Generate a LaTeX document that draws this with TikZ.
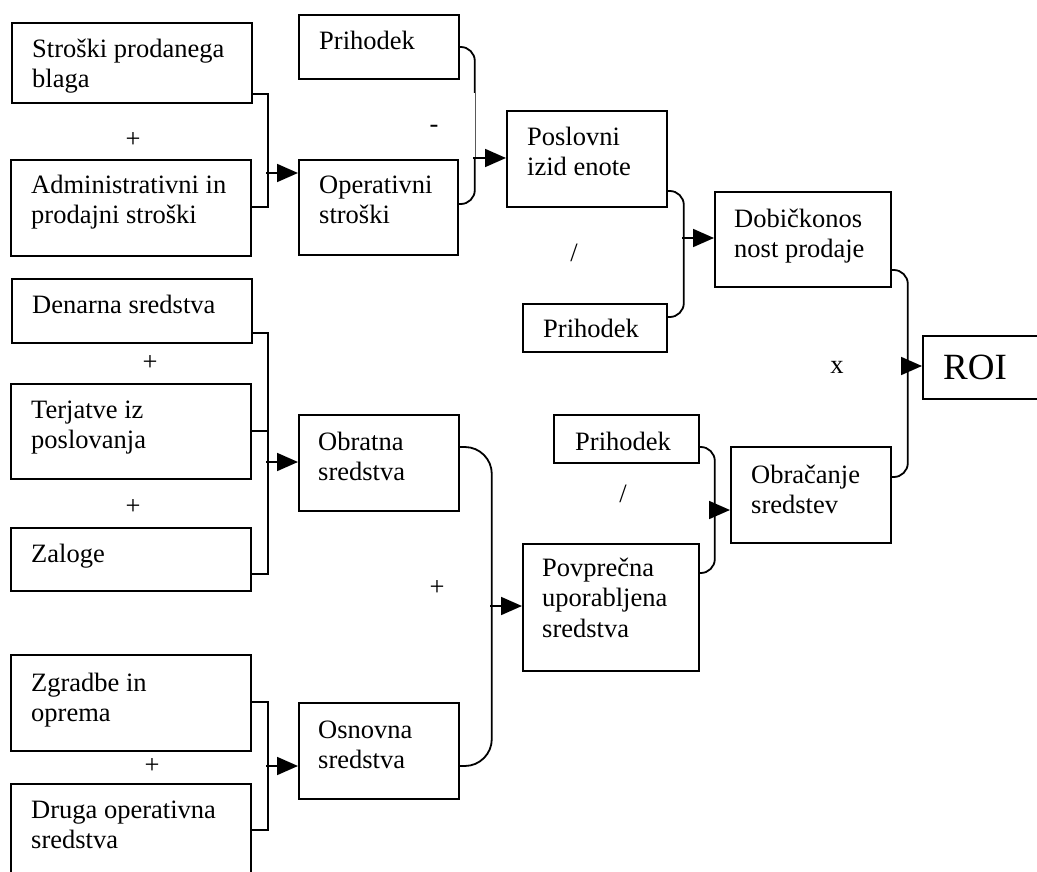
\documentclass[tikz,border=0pt]{standalone}
\usepackage{fontspec}
\setmainfont{Liberation Serif}
\usetikzlibrary{arrows.meta,calc}

% Multi-line labels sit on the baseline of their last line,
% so the offsets below name that last baseline.
\tikzset{
  box/.style={draw, line width=1.8pt, inner sep=0pt, anchor=north west},
  lbl/.style={anchor=base west, align=left, inner sep=0pt,
              font=\fontsize{26.5}{30}\selectfont},
  op/.style={inner sep=0pt, font=\fontsize{26.5}{30}\selectfont},
  conn/.style={line width=1.8pt},
  arr/.style={line width=1.8pt, -{Triangle[length=21pt,width=18pt]}},
}

\begin{document}
\begin{tikzpicture}[x=1pt,y=-1pt]
\clip (0,0) rectangle (1037,872);
\fill[white] (0,0) rectangle (1037,872);

% ---- boxes ----
\node[box, minimum width=240, minimum height=80] (sold)  at (11,22)  {};
\node[box, minimum width=240, minimum height=96] (admin) at (10,159) {};
\node[box, minimum width=160, minimum height=64] (rev1)  at (298,14) {};
\node[box, minimum width=159, minimum height=95] (opex)  at (298,159) {};
\node[box, minimum width=160, minimum height=96] (ebit)  at (506,110) {};
\node[box, minimum width=144, minimum height=48] (rev2)  at (522,303) {};
\node[box, minimum width=176, minimum height=95] (margin) at (714,191) {};
\node[box, minimum width=123, minimum height=63] (roi)   at (922,335) {};
\node[box, minimum width=160, minimum height=96] (turn)  at (730,446) {};
\node[box, minimum width=145, minimum height=48] (rev3)  at (553,414) {};
\node[box, minimum width=176, minimum height=127] (avg)  at (522,543) {};
\node[box, minimum width=240, minimum height=64] (cash)  at (11,278) {};
\node[box, minimum width=240, minimum height=95] (recv)  at (10,383) {};
\node[box, minimum width=240, minimum height=63] (inv)   at (10,527) {};
\node[box, minimum width=160, minimum height=96] (wc)    at (298,414) {};
\node[box, minimum width=240, minimum height=96] (bld)   at (10,654) {};
\node[box, minimum width=240, minimum height=110] (oth)  at (10,783) {};
\node[box, minimum width=160, minimum height=96] (fixed) at (298,702) {};

% ---- box texts ----
\node[lbl] (sold-t)   at ($(sold.north west)+(21,66)$)   {Stroški prodanega\\blaga};
\node[lbl] (admin-t)  at ($(admin.north west)+(21,65)$)  {Administrativni in\\prodajni stroški};
\node[lbl] (rev1-t)   at ($(rev1.north west)+(21,36)$)   {Prihodek};
\node[lbl] (opex-t)   at ($(opex.north west)+(21,65)$)   {Operativni\\stroški};
\node[lbl] (ebit-t)   at ($(ebit.north west)+(21,66)$)   {Poslovni\\izid enote};
\node[lbl] (rev2-t)   at ($(rev2.north west)+(21,34)$)   {Prihodek};
\node[lbl] (margin-t) at ($(margin.north west)+(20,66)$) {Dobičkonos\\nost prodaje};
\node[lbl, font=\fontsize{37}{40}\selectfont] (roi-t) at ($(roi.north west)+(21,44)$) {ROI};
\node[lbl] (turn-t)   at ($(turn.north west)+(21,67)$)   {Obračanje\\sredstev};
\node[lbl] (rev3-t)   at ($(rev3.north west)+(22,36)$)   {Prihodek};
\node[lbl, font=\fontsize{26.5}{30.5}\selectfont] (avg-t) at ($(avg.north west)+(20,94)$) {Povprečna\\uporabljena\\sredstva};
\node[lbl] (cash-t)   at ($(cash.north west)+(21,35)$)   {Denarna sredstva};
\node[lbl] (recv-t)   at ($(recv.north west)+(21,65)$)   {Terjatve iz\\poslovanja};
\node[lbl] (inv-t)    at ($(inv.north west)+(21,35)$)    {Zaloge};
\node[lbl] (wc-t)     at ($(wc.north west)+(20,66)$)     {Obratna\\sredstva};
\node[lbl] (bld-t)    at ($(bld.north west)+(21,67)$)    {Zgradbe in\\oprema};
\node[lbl] (oth-t)    at ($(oth.north west)+(21,65)$)    {Druga operativna\\sredstva};
\node[lbl] (fixed-t)  at ($(fixed.north west)+(20,66)$)  {Osnovna\\sredstva};

% ---- brackets joining the cost boxes ----
\draw[conn] ($(sold.north east)+(0,72)$) -- ++(15,0) |- ($(admin.north east)+(0,48)$);
\coordinate (ja) at (266,173);
\draw[arr] (ja) -- ($(opex.north west)+(0,14)$);

% ---- revenue minus operating costs ----
\draw[conn, rounded corners=14pt] ($(rev1.north east)+(0,33)$) -- ++(15,0) |- ($(opex.north east)+(0,45)$);
\node[fill=white, inner sep=0pt, minimum width=65, minimum height=65.5, anchor=north west] (mask) at (410,93) {};
\node[op, anchor=base] (minus) at (434,133) {-};
\coordinate (jb) at (473,158);
\draw[arr] (jb) -- ($(ebit.north west)+(0,48)$);

% ---- result divided by revenue ----
\draw[conn, rounded corners=14pt] ($(ebit.north east)+(0,81)$) -- ++(16,0) |- ($(rev2.north east)+(0,14)$);
\coordinate (jc) at (682,238);
\draw[arr] (jc) -- ($(margin.north west)+(0,47)$);

% ---- margin times turnover ----
\draw[conn, rounded corners=14pt] ($(margin.north east)+(0,79)$) -- ++(16,0) |- ($(turn.north east)+(0,31)$);
\coordinate (jd) at (906,366);
\draw[arr] (jd) -- ($(roi.north west)+(0,31)$);

% ---- revenue divided by average assets ----
\draw[conn, rounded corners=14pt] ($(rev3.north east)+(0,33)$) -- ++(15,0) |- ($(avg.north east)+(0,30)$);
\coordinate (je) at (713,510);
\draw[arr] (je) -- ($(turn.north west)+(0,64)$);

% ---- current assets ----
\draw[conn] ($(cash.north east)+(0,55)$) -- ++(15,0) |- ($(inv.north east)+(0,47)$);
\draw[conn] ($(recv.north east)+(0,48)$) -- ++(16,0);
\coordinate (jf) at (266,462);
\draw[arr] (jf) -- ($(wc.north west)+(0,48)$);

% ---- current plus fixed assets ----
\draw[conn, rounded corners=27pt] ($(wc.north east)+(0,33)$) -- ++(32,0) |- ($(fixed.north east)+(0,64)$);
\coordinate (jg) at (490,606);
\draw[arr] (jg) -- ($(avg.north west)+(0,63)$);

% ---- fixed assets ----
\draw[conn] ($(bld.north east)+(0,48)$) -- ++(16,0) |- ($(oth.north east)+(0,47)$);
\coordinate (jh) at (266,766);
\draw[arr] (jh) -- ($(fixed.north west)+(0,64)$);

% ---- operators ----
\node[op] (plus1) at (133,140) {+};
\node[op] (plus2) at (150,363) {+};
\node[op] (plus3) at (133,507) {+};
\node[op] (plus4) at (152,766) {+};
\node[op] (plus5) at (437,588) {+};
\node[op] (div1)  at (574,253) {/};
\node[op] (div2)  at (623,494) {/};
\node[op] (times) at (837,367) {x};
\end{tikzpicture}
\end{document}
